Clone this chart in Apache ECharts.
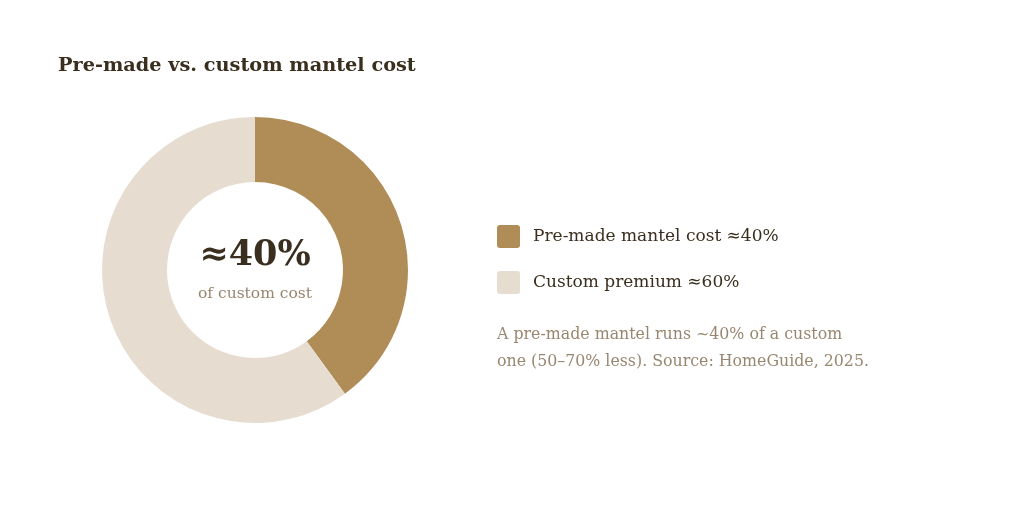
<!DOCTYPE html>
<html lang="en">
<head>
    <meta charset="utf-8">
    <title>Pre-made vs. custom mantel cost</title>
    <script src="https://cdn.jsdelivr.net/npm/echarts@6/dist/echarts.min.js"></script>
    <style>
        html, body { margin: 0; padding: 0; background: #fff; }
        #main { width: 1024px; height: 515px; }
    </style>
</head>
<body>
    <div id="main"></div>
    <script type="text/javascript">
    // data
    var categories = ['Pre-made mantel cost ≈40%', 'Custom premium ≈60%'];
    var values = [40, 60];
    var colors = ['#B08D57', '#E6DDD0'];

    var serif = '"DejaVu Serif", Georgia, serif';
    var myChart = echarts.init(document.getElementById('main'));

    myChart.setOption({
        animation: false,
        title: {
            text: 'Pre-made vs. custom mantel cost',
            left: 58,
            top: 56,
            padding: 0,
            textStyle: { fontFamily: serif, fontSize: 19.3, fontWeight: 'bold', color: '#3A2E1F' }
        },
        legend: {
            orient: 'vertical',
            left: 497,
            top: 225,
            padding: 0,
            itemWidth: 23,
            itemHeight: 23,
            itemGap: 23,
            icon: 'path://M3,0 H20 A3,3 0 0 1 23,3 V20 A3,3 0 0 1 20,23 H3 A3,3 0 0 1 0,20 V3 A3,3 0 0 1 3,0 Z',
            textStyle: { fontFamily: serif, fontSize: 17, color: '#3A2E1F', padding: [4, 0, 0, 8] },
            selectedMode: false,
            data: categories
        },
        graphic: [
            {
                type: 'text', left: 497, top: 321,
                style: {
                    text: 'A pre-made mantel runs ~40% of a custom\none (50–70% less). Source: HomeGuide, 2025.',
                    font: '15.8px ' + serif, fill: '#998670', lineHeight: 27
                }
            },
            {
                type: 'text', x: 255, y: 256,
                style: {
                    text: '≈40%', font: 'bold 35px ' + serif, fill: '#3A2E1F',
                    align: 'center', verticalAlign: 'middle'
                }
            },
            {
                type: 'text', x: 255, y: 294,
                style: {
                    text: 'of custom cost', font: '15.5px ' + serif, fill: '#998670',
                    align: 'center', verticalAlign: 'middle'
                }
            }
        ],
        series: [{
            type: 'pie',
            center: [255, 270],
            radius: [88, 153],
            startAngle: 90,
            clockwise: true,
            label: { show: false },
            labelLine: { show: false },
            emphasis: { disabled: true },
            data: categories.map(function (name, i) {
                return { name: name, value: values[i], itemStyle: { color: colors[i] } };
            })
        }]
    });
    </script>
</body>
</html>
